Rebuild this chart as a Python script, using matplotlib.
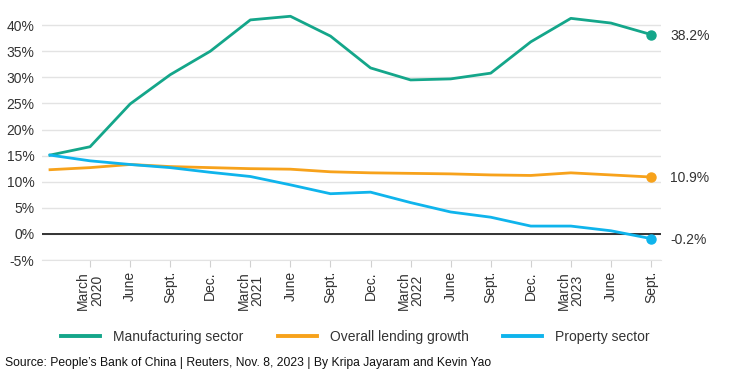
import matplotlib.pyplot as plt
import numpy as np

# quarterly, Dec 2019 .. Sept 2023
quarters = ["", "March\n2020", "June", "Sept.", "Dec.", "March\n2021", "June", "Sept.", "Dec.",
            "March\n2022", "June", "Sept.", "Dec.", "March\n2023", "June", "Sept."]
manufacturing = [15.1, 16.7, 24.9, 30.5, 35.0, 41.0, 41.7, 37.9, 31.8, 29.5, 29.7, 30.8, 36.8, 41.3, 40.4, 38.2]
overall = [12.3, 12.7, 13.3, 12.9, 12.7, 12.5, 12.4, 11.9, 11.7, 11.6, 11.5, 11.3, 11.2, 11.7, 11.3, 10.9]
property_ = [15.1, 14.0, 13.3, 12.7, 11.8, 11.0, 9.4, 7.7, 8.0, 6.0, 4.2, 3.2, 1.5, 1.5, 0.6, -0.9]
end_labels = ["38.2%", "10.9%", "-0.2%"]
yticks = [-5, 0, 5, 10, 15, 20, 25, 30, 35, 40]

GREEN = "#14a68a"
ORANGE = "#f7a21b"
BLUE = "#0fb4ec"

plt.rcParams['font.family'] = ['Liberation Sans', 'DejaVu Sans']

fig = plt.figure(figsize=(7.31, 3.77), dpi=100)
ax = fig.add_axes([42/731, 1-260/377, (661-42)/731, 250/377])

x = np.arange(len(quarters))
series = [(manufacturing, GREEN, "Manufacturing sector"),
          (overall, ORANGE, "Overall lending growth"),
          (property_, BLUE, "Property sector")]
for (vals, col, lab), txt in zip(series, end_labels):
    ax.plot(x, vals, color=col, lw=2.0, label=lab, zorder=3)
    ax.plot(x[-1], vals[-1], 'o', color=col, ms=6.5, zorder=4, clip_on=False)
    ax.annotate(txt, (x[-1], vals[-1]), xytext=(14, -1), textcoords='offset points',
                va='center', ha='left', fontsize=10, color='#333333', annotation_clip=False)

ax.axhline(0, color='#333333', lw=1.4, zorder=2)
ax.set_xlim(-0.2, 15.25)
ax.set_ylim(-5, 42.9)
ax.set_yticks(yticks)
ax.set_yticklabels([f"{v}%" for v in yticks])
ax.yaxis.grid(True, color='#e3e3e3', lw=1.0, zorder=0)
ax.set_xticks(x[1:])
ax.set_xticklabels(quarters[1:], rotation=90, va='top', ha='center', linespacing=0.95)
for s in ["top", "right", "left"]:
    ax.spines[s].set_visible(False)
ax.spines["bottom"].set_color('#e3e3e3')
ax.tick_params(axis='y', length=0, labelsize=10, pad=5.5, labelcolor='#333333')
ax.tick_params(axis='x', length=5, color='#d0d0d0', labelsize=10, pad=3, labelcolor='#333333')

leg = fig.legend(loc='center left', bbox_to_anchor=(61/731, 1-337/377), ncol=3, frameon=False,
                 fontsize=10, handlelength=2.8, handletextpad=0.93, columnspacing=2.5, borderpad=0,
                 borderaxespad=0)
for t in leg.get_texts():
    t.set_color('#333333')
for l in leg.get_lines():
    l.set_linewidth(2.8)

fig.text(5/731, 1-363/377, "Source: People\u2019s Bank of China | Reuters, Nov. 8, 2023 | By Kripa Jayaram and Kevin Yao",
         va='center', ha='left', fontsize=8.7, color='#111111')

fig.savefig("out.png", dpi=100)
